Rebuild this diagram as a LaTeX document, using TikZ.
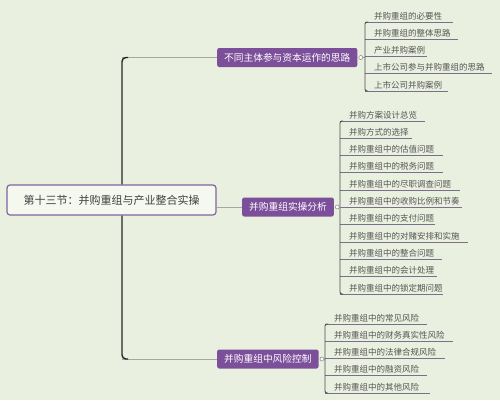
\documentclass[tikz,border=0pt]{standalone}
\usepackage{fontspec}
\newfontfamily\cjk{Noto Sans CJK SC}
\usetikzlibrary{positioning,calc}

\definecolor{bgc}{RGB}{233,240,223}
\definecolor{mmpurple}{RGB}{124,79,154}
\definecolor{rootline}{RGB}{128,100,160}
\definecolor{ulinec}{RGB}{125,110,140}
\definecolor{txtgray}{RGB}{85,85,85}

\begin{document}
\begin{tikzpicture}[x=1pt,y=-1pt,
  rootbox/.style={draw=rootline, line width=1.2pt, fill=bgc!50!white, rounded corners=3pt,
    minimum width=209pt, minimum height=30pt, font=\cjk\fontsize{11}{13}\selectfont, text=black!75},
  topic/.style={fill=mmpurple, rounded corners=2pt, text=white, minimum height=19pt,
    inner xsep=7pt, font=\cjk\fontsize{9.7}{11}\selectfont, anchor=west},
  knob/.style={circle, draw=gray, fill=white, inner sep=0pt, minimum size=4pt, line width=0.5pt},
  leaf/.style={anchor=south west, inner xsep=9pt, inner ysep=2pt, align=left,
    font=\cjk\fontsize{8.5}{10}\selectfont, text=txtgray},
  uline/.style={draw=ulinec, line width=1pt},
  bracket/.style={draw=black!70, line width=0.9pt, rounded corners=2pt},
  trunk/.style={draw=black!85, line width=1.4pt, rounded corners=4pt},
  link/.style={draw=gray!70, line width=0.8pt}]

\path[use as bounding box, fill=bgc] (0,0) rectangle (500,400);

\node[rootbox] (root) at (111.5,200) {第十三节：并购重组与产业整合实操};

\node[topic] (t1) at (217,57.5) {不同主体参与资本运作的思路};
\node[topic] (t2) at (242,207) {并购重组实操分析};
\node[topic] (t3) at (217,359) {并购重组中风险控制};

\node[knob, right=1pt of t1] (k1) {};
\node[knob, right=1pt of t2] (k2) {};
\node[knob, right=1pt of t3] (k3) {};

% trunk
\coordinate (tx) at (122,200);
\draw[link] (t1.west) -- (tx |- t1.west);
\draw[link] (root.east |- t2.west) -- (t2.west);
\draw[link] (t3.west) -- (tx |- t3.west);
\draw[trunk] ($(tx |- t1.west)+(6,0)$) -- (tx |- t1.west) -- (tx |- root.north);
\draw[trunk] (tx |- root.south) -- (tx |- t3.west) -- ($(tx |- t3.west)+(6,0)$);

% leaves
\foreach \i/\t/\xe in {1/并购重组的必要性/453, 2/并购重组的整体思路/458, 3/产业并购案例/427,
    4/上市公司参与并购重组的思路/492, 5/上市公司并购案例/448} {
  \pgfmathsetmacro\tw{\xe-365-18}
  \node[leaf, text width=\tw pt] (p1\i) at (365,{22+17.25*(\i-1)}) {\t};
  \draw[uline] (p1\i.south west) -- (p1\i.south east);
}
\draw[link] (k1.east) -- (k1 -| p11.south west);
\draw[bracket] ($(p11.south west)+(3,0)$) -- (p11.south west) -- (p15.south west) -- ($(p15.south west)+(3,0)$);

\foreach \i/\t/\xe in {1/并购方案设计总览/425, 2/并购方式的选择/412, 3/并购重组中的估值问题/443,
    4/并购重组中的税务问题/443, 5/并购重组中的尽职调查问题/460, 6/并购重组中的收购比例和节奏/462,
    7/并购重组中的支付问题/435, 8/并购重组中的对赌安排和实施/468, 9/并购重组中的整合问题/442,
    10/并购重组中的会计处理/437, 11/并购重组中的锁定期问题/443} {
  \pgfmathsetmacro\tw{\xe-340-18}
  \node[leaf, text width=\tw pt] (p2\i) at (340,{121+17.3*(\i-1)}) {\t};
  \draw[uline] (p2\i.south west) -- (p2\i.south east);
}
\draw[link] (k2.east) -- (k2 -| p21.south west);
\draw[bracket] ($(p21.south west)+(3,0)$) -- (p21.south west) -- (p211.south west) -- ($(p211.south west)+(3,0)$);

\foreach \i/\t/\xe in {1/并购重组中的常见风险/427, 2/并购重组中的财务真实性风险/453,
    3/并购重组中的法律合规风险/445, 4/并购重组中的融资风险/427, 5/并购重组中的其他风险/430} {
  \pgfmathsetmacro\tw{\xe-325-18}
  \node[leaf, text width=\tw pt] (p3\i) at (325,{324+17.25*(\i-1)}) {\t};
  \draw[uline] (p3\i.south west) -- (p3\i.south east);
}
\draw[link] (k3.east) -- (k3 -| p31.south west);
\draw[bracket] ($(p31.south west)+(3,0)$) -- (p31.south west) -- (p35.south west) -- ($(p35.south west)+(3,0)$);

\end{tikzpicture}
\end{document}
